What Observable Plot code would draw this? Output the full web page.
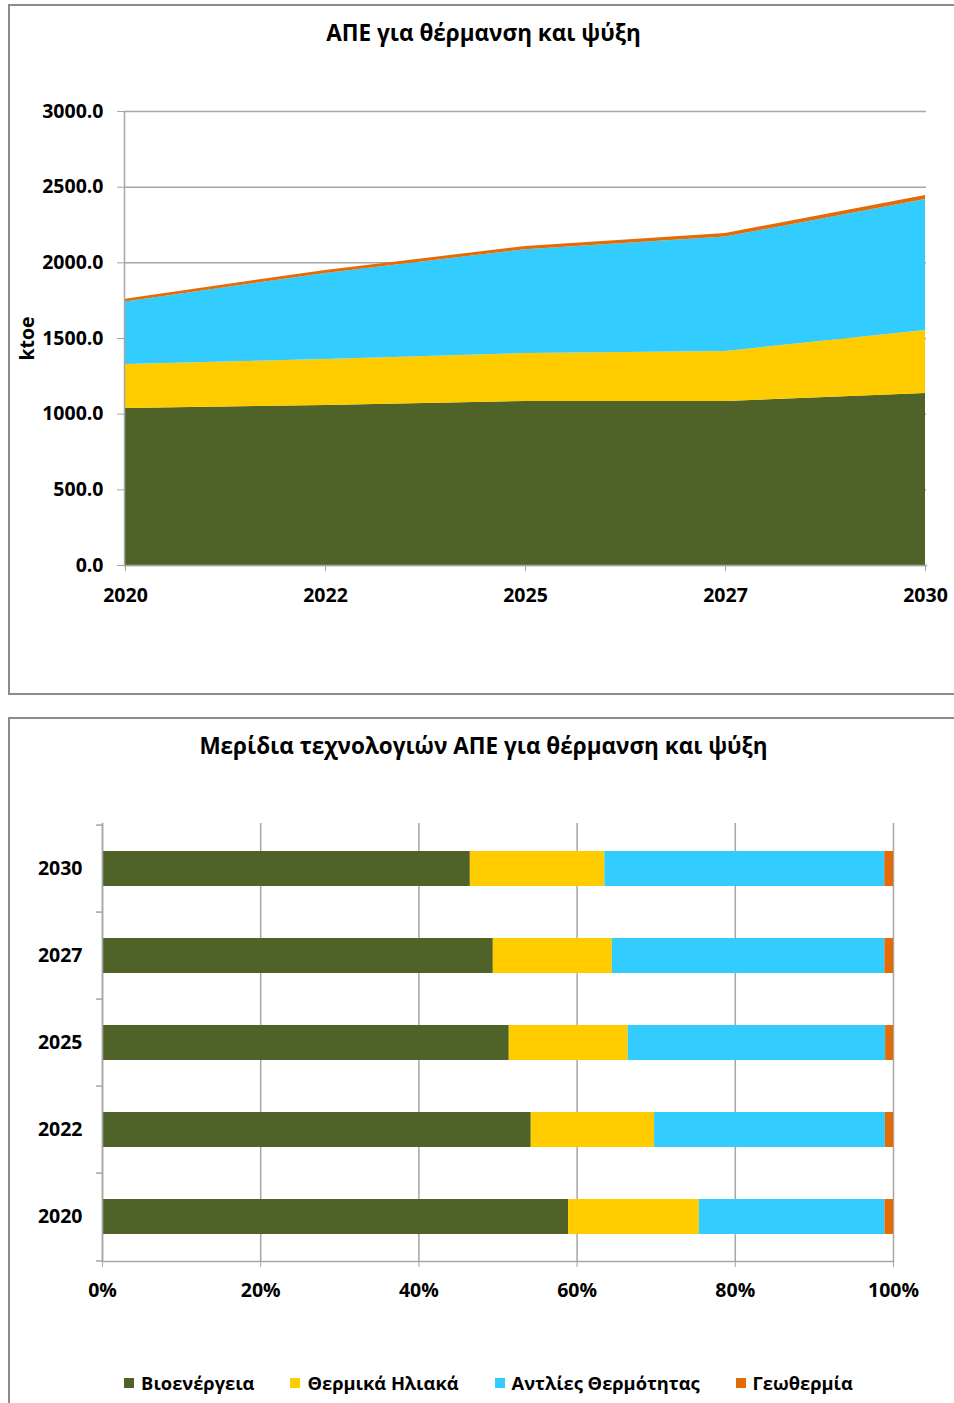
<!DOCTYPE html>
<html><head><meta charset="utf-8">
<script src="https://cdn.jsdelivr.net/npm/d3@7"></script>
<script src="https://cdn.jsdelivr.net/npm/@observablehq/plot@0.6"></script>
<style>
body{margin:0;background:#fff;font-family:"Open Sans",sans-serif;}
#page{position:relative;width:954px;height:1403px;overflow:hidden;background:#fff;}
.panel{position:absolute;border:2px solid #8c8c8c;border-right:none;box-sizing:border-box;}
.title{position:absolute;left:8px;width:951px;text-align:center;font-weight:bold;font-size:22.5px;line-height:24px;color:#000;}
.chart{position:absolute;left:0;}
.lg-swatches{justify-content:center;}
.lg-swatch{margin-right:36px !important;}
.lg-swatch:last-child{margin-right:0 !important;}
.lg-swatch svg{margin-right:7px !important;}
</style></head>
<body><div id="page">
<div class="panel" style="left:8px;top:4px;width:960px;height:691px"></div>
<div class="panel" style="left:8px;top:717px;width:960px;height:700px"></div>
<div class="title" style="top:21px">ΑΠΕ για θέρμανση και ψύξη</div>
<div class="title" style="top:734px">Μερίδια τεχνολογιών ΑΠΕ για θέρμανση και ψύξη</div>
<div id="topChart" class="chart" style="top:0"></div>
<div id="bottomChart" class="chart" style="top:716px"></div>
<div id="legend" style="position:absolute;left:13px;width:951px;top:1366px"></div>
</div>
<script>
const years = ["2020", "2022", "2025", "2027", "2030"];
const techs = ["Βιοενέργεια", "Θερμικά Ηλιακά", "Αντλίες Θερμότητας", "Γεωθερμία"];
const colors = ["#4F6228", "#FFCC00", "#33CCFF", "#E36C09"];
const bioenergy = [1037, 1057, 1084, 1084, 1137];
const solarThermal = [291, 304, 317, 330, 416];
const heatPumps = [413, 569, 686, 756, 865];
const geothermal = [19, 20, 21, 24, 27];
const yTicks = [0, 500, 1000, 1500, 2000, 2500, 3000];
const pctTicks = [0, 0.2, 0.4, 0.6, 0.8, 1];

const series = [bioenergy, solarThermal, heatPumps, geothermal];
const rows = techs.flatMap((t, i) => years.map((y, j) => ({year: y, tech: t, value: series[i][j]})));
const grid = "#a6a6a6";
const font = {fontSize: 19.5, fontWeight: "bold", fill: "#000"};

const areaChart = Plot.plot({
  width: 954, height: 700,
  marginLeft: 124, marginRight: 28, marginTop: 111, marginBottom: 135,
  style: {background: "transparent", fontFamily: "Open Sans"},
  x: {type: "point", domain: years, padding: 0},
  y: {domain: [0, 3000]},
  color: {domain: techs, range: colors},
  marks: [
    Plot.gridY(yTicks, {stroke: grid, strokeOpacity: 1, strokeWidth: 1.5}),
    Plot.areaY(rows, {x: "year", y: "value", fill: "tech"}),
    Plot.frame({anchor: "left", stroke: grid, strokeWidth: 1.5}),
    Plot.frame({anchor: "bottom", stroke: grid, strokeWidth: 1.5}),
    Plot.axisY(yTicks, {tickSize: 7, tickPadding: 14, tickFormat: d3.format(".1f"), stroke: grid, ...font,
      label: "ktoe", labelAnchor: "center", labelArrow: "none", labelOffset: 104}),
    Plot.axisX(years, {tickSize: 6, tickPadding: 17, stroke: grid, ...font, label: null})
  ]
});
document.getElementById("topChart").append(areaChart);

const yOrder = years.slice().reverse();
const plotH = 1262 - 823;
const half = plotH / years.length / 2;
const barChart = Plot.plot({
  width: 954, height: 686,
  marginLeft: 102, marginRight: 61, marginTop: 107, marginBottom: 141,
  style: {background: "transparent", fontFamily: "Open Sans"},
  x: {domain: [0, 1]},
  y: {type: "band", domain: yOrder, paddingInner: 0.6, paddingOuter: 0.3},
  color: {domain: techs, range: colors},
  marks: [
    Plot.gridX(pctTicks, {stroke: grid, strokeOpacity: 1, strokeWidth: 1.5}),
    Plot.barX(rows, Plot.stackX({offset: "normalize", x: "value", y: "year", fill: "tech"})),
    Plot.frame({anchor: "left", stroke: grid, strokeWidth: 1.5}),
    Plot.frame({anchor: "bottom", stroke: grid, strokeWidth: 1.5}),
    Plot.axisX(pctTicks, {tickSize: 6, tickPadding: 16, tickFormat: d3.format(".0%"), stroke: grid, ...font, label: null}),
    Plot.axisY(yOrder, {tickSize: 0, tickPadding: 20, ...font, label: null}),
    Plot.axisY(yOrder, {tickSize: 6, text: null, dy: -half, stroke: grid, strokeWidth: 1.5, label: null}),
    Plot.axisY([yOrder[yOrder.length - 1]], {tickSize: 6, text: null, dy: half, stroke: grid, strokeWidth: 1.5, label: null})
  ]
});
document.getElementById("bottomChart").append(barChart);

const legend = Plot.legend({
  color: {domain: techs, range: colors},
  legend: "swatches", swatchSize: 10, className: "lg",
  style: {fontSize: "18.3px", fontWeight: "bold", fontFamily: "Open Sans", color: "#000"}
});
document.getElementById("legend").append(legend);
</script>
</body></html>
